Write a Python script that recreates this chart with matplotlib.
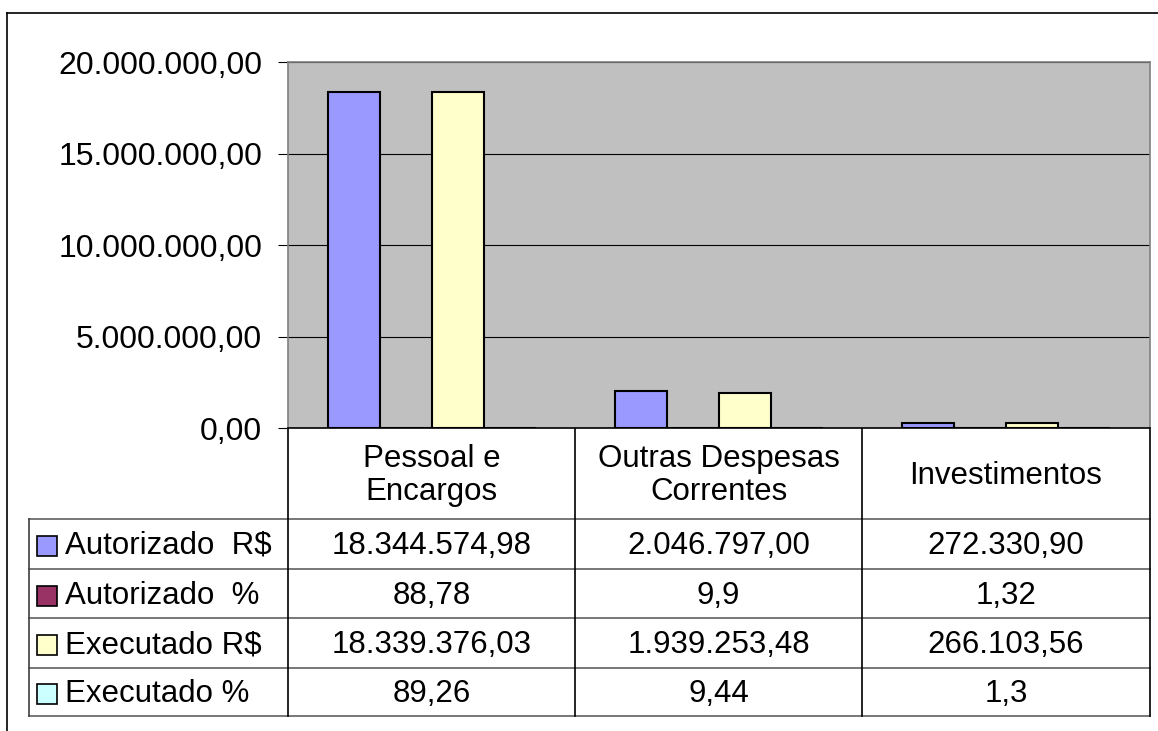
import matplotlib
matplotlib.use("Agg")
import matplotlib.pyplot as plt
from matplotlib.patches import Rectangle
from matplotlib.ticker import FuncFormatter, MultipleLocator
import numpy as np

plt.rcParams['font.family'] = ['Liberation Sans', 'DejaVu Sans']

categories = ["Pessoal e\nEncargos", "Outras Despesas\nCorrentes", "Investimentos"]
series_names = ["Autorizado  R$", "Autorizado  %", "Executado R$", "Executado %"]
autorizado_rs = [18344574.98, 2046797.00, 272330.90]
autorizado_pct = [88.78, 9.9, 1.32]
executado_rs = [18339376.03, 1939253.48, 266103.56]
executado_pct = [89.26, 9.44, 1.3]
table_text = [
    ["18.344.574,98", "2.046.797,00", "272.330,90"],
    ["88,78", "9,9", "1,32"],
    ["18.339.376,03", "1.939.253,48", "266.103,56"],
    ["89,26", "9,44", "1,3"],
]
colors = ["#9999FF", "#993366", "#FFFFCC", "#CCFFFF"]

W, H = 1158, 731
fig = plt.figure(figsize=(W / 100, H / 100), dpi=100)
fig.patch.set_facecolor("white")

# plot area in pixels
px0, px1, py0, py1 = 288, 1150, 62, 428
ax = fig.add_axes([px0 / W, 1 - py1 / H, (px1 - px0) / W, (py1 - py0) / H])
ax.set_facecolor("#C0C0C0")
ax.set_zorder(2)

series = [autorizado_rs, autorizado_pct, executado_rs, executado_pct]
x = np.arange(len(categories))
bw = 0.181
for i, (vals, col) in enumerate(zip(series, colors)):
    ax.bar(x + (i - 1.5) * bw, vals, bw, color=col, edgecolor="black",
           linewidth=1.5, zorder=3)

ax.set_xlim(-0.5, 2.5)
ax.set_ylim(0, 20000000)
ax.yaxis.set_major_locator(MultipleLocator(5000000))

def fmt(v, pos):
    s = f"{v:,.2f}"
    return s.replace(",", "X").replace(".", ",").replace("X", ".")

ax.yaxis.set_major_formatter(FuncFormatter(fmt))
ax.grid(axis="y", color="black", linewidth=0.8, zorder=1)
ax.set_axisbelow(True)
ax.set_xticks([])
ax.tick_params(axis="y", length=7.2, width=0.8, pad=11.5, labelsize=23,
               colors="black")
for s in ["top", "right", "left"]:
    ax.spines[s].set_color("#808080")
    ax.spines[s].set_linewidth(1.2)
ax.spines["bottom"].set_color("black")
ax.spines["bottom"].set_linewidth(1.2)

# overlay axes in pixel coordinates for table and border
ov = fig.add_axes([0, 0, 1, 1])
ov.set_xlim(0, W)
ov.set_ylim(H, 0)
ov.axis("off")
ov.set_zorder(1)

# outer chart border
ov.plot([7, W], [13, 13], color="black", lw=1.2)
ov.plot([7, 7], [13, H], color="black", lw=1.2)

col_x = [288, 575, 862, 1150]
row_y = [428, 519, 569, 618, 668, 716]
leg_x0 = 29
fs = 22.5

# horizontal lines
for y in row_y[1:]:
    ov.plot([leg_x0, col_x[-1]], [y, y], color="#606060", lw=1.2)
# vertical lines
for cx in col_x:
    ov.plot([cx, cx], [row_y[0], row_y[-1]], color="black", lw=1.2)
ov.plot([leg_x0, leg_x0], [row_y[1], row_y[-1]], color="#404040", lw=1.2)

# header category labels
for j, cat in enumerate(categories):
    cx = (col_x[j] + col_x[j + 1]) / 2
    cy = (row_y[0] + row_y[1]) / 2
    ov.text(cx, cy + 2, cat, ha="center", va="center", fontsize=fs,
            linespacing=1.15)

# rows
for i, name in enumerate(series_names):
    cy = (row_y[i + 1] + row_y[i + 2]) / 2
    ov.add_patch(Rectangle((37, cy - 8), 20, 20, facecolor=colors[i],
                           edgecolor="black", lw=1.2))
    ov.text(65, cy + 2, name, ha="left", va="center", fontsize=fs)
    for j in range(len(categories)):
        cx = (col_x[j] + col_x[j + 1]) / 2
        ov.text(cx, cy + 2, table_text[i][j], ha="center", va="center",
                fontsize=fs)

fig.savefig("out.png", dpi=100, facecolor="white")
